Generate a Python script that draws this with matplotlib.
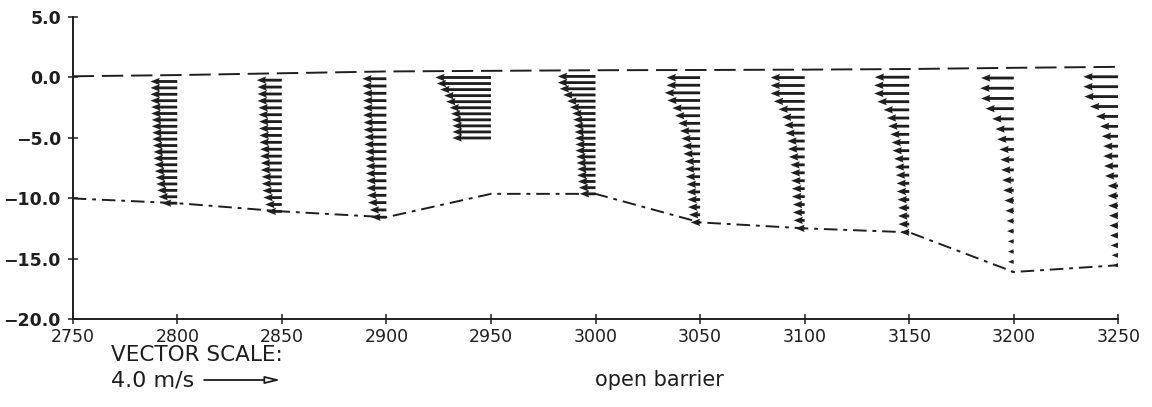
import matplotlib.pyplot as plt
from matplotlib.ticker import FuncFormatter

# stations along the channel (m), water surface and bed level (m)
station = [2750, 2800, 2850, 2900, 2950, 3000, 3050, 3100, 3150, 3200, 3250]
surface = [0.10, 0.20, 0.35, 0.50, 0.55, 0.60, 0.62, 0.65, 0.70, 0.80, 0.88]
bed = [-10.0, -10.39, -11.07, -11.55, -9.62, -9.62, -11.98, -12.47, -12.80, -16.08, -15.52]

# sigma layers (fraction of local depth below surface), top to bottom
sigma = [0.05, 0.10, 0.15, 0.20, 0.25, 0.30, 0.35, 0.40, 0.45, 0.50,
         0.55, 0.60, 0.65, 0.70, 0.75, 0.80, 0.85, 0.90, 0.95, 1.00]

# current speed (m/s, towards -x), top layer first
speed = {
    2800: [1.40, 1.40, 1.40, 1.40, 1.36, 1.36, 1.33, 1.33, 1.31, 1.31,
           1.27, 1.24, 1.24, 1.20, 1.17, 1.13, 1.10, 1.05, 0.98, 0.80],
    2850: [1.31, 1.27, 1.27, 1.27, 1.22, 1.22, 1.19, 1.19, 1.17, 1.17,
           1.13, 1.13, 1.10, 1.10, 1.05, 1.05, 1.01, 0.96, 0.87, 0.79],
    2900: [1.26, 1.26, 1.22, 1.22, 1.22, 1.22, 1.19, 1.19, 1.15, 1.15,
           1.12, 1.12, 1.08, 1.08, 1.05, 1.05, 1.01, 0.96, 0.87, 0.79],
    3000: [1.97, 1.97, 1.87, 1.69, 1.48, 1.34, 1.22, 1.17, 1.13, 1.10,
           1.08, 1.05, 1.05, 1.01, 0.99, 0.96, 0.96, 0.92, 0.87, 0.82],
    3050: [1.75, 1.75, 1.85, 1.71, 1.45, 1.31, 1.15, 1.05, 0.98, 0.92,
           0.87, 0.80, 0.79, 0.75, 0.70, 0.70, 0.66, 0.63, 0.58, 0.49],
    3100: [1.78, 1.78, 1.78, 1.61, 1.36, 1.19, 1.08, 1.01, 0.91, 0.87,
           0.82, 0.75, 0.73, 0.70, 0.66, 0.66, 0.61, 0.61, 0.58, 0.49],
    3150: [1.80, 1.83, 1.83, 1.66, 1.34, 1.17, 1.10, 0.99, 0.92, 0.87,
           0.79, 0.75, 0.70, 0.66, 0.65, 0.61, 0.58, 0.58, 0.56, 0.47],
    3200: [1.71, 1.75, 1.71, 1.48, 1.13, 0.96, 0.87, 0.75, 0.70, 0.66,
           0.61, 0.56, 0.49, 0.44, 0.38, 0.35, 0.31, 0.31, 0.30, 0.17],
    3250: [1.83, 1.83, 1.78, 1.48, 1.17, 0.96, 0.87, 0.79, 0.79, 0.75,
           0.70, 0.56, 0.56, 0.52, 0.49, 0.47, 0.44, 0.40, 0.35, 0.30],
}

# barrier opening at 2950: fixed levels
z_barrier = [0.0, -0.5, -1.0, -1.5, -2.0, -2.5, -3.0, -3.5, -4.0, -4.5, -5.0]
u_barrier = [2.91, 2.83, 2.65, 2.44, 2.34, 2.16, 2.09, 2.04, 2.01, 2.01, 2.01]

vec_ref = 4.0        # m/s shown in the scale
vec_units = 9.15     # x-units per m/s
ink = '#1e1e1e'

fig = plt.figure(figsize=(11.52, 4.07), dpi=100)
ax = fig.add_axes([0.0631, 0.2152, 0.9077, 0.743])

X, Y, U = [], [], []
for st, sp in speed.items():
    i = station.index(st)
    top, bot = surface[i], bed[i]
    for s, u in zip(sigma, sp):
        X.append(st)
        Y.append(top + s * (bot - top))
        U.append(-u)
for z, u in zip(z_barrier, u_barrier):
    X.append(2950)
    Y.append(z)
    U.append(-u)

ax.quiver(X, Y, U, [0] * len(U), angles='xy', scale_units='xy',
          scale=1 / vec_units, pivot='tail', color=ink,
          width=0.0027, headwidth=2.6, headlength=3.3, headaxislength=3.0)

ax.plot(station, surface, color=ink, lw=1.4, dashes=(11, 4))
ax.plot(station, bed, color=ink, lw=1.4, dashes=(7, 3, 2, 3))

ax.set_xlim(2750, 3250)
ax.set_ylim(-20, 5)
ax.set_xticks(range(2750, 3251, 50))
ax.set_yticks([-20, -15, -10, -5, 0, 5])
ax.yaxis.set_major_formatter(FuncFormatter(lambda v, p: f'{v:.1f}'.replace('-', '\u2212')))
ax.spines['top'].set_visible(False)
ax.spines['right'].set_visible(False)
for s in ('left', 'bottom'):
    ax.spines[s].set_linewidth(1.4)
    ax.spines[s].set_color(ink)
ax.tick_params(axis='both', direction='inout', length=7, width=1.1,
               colors=ink, labelsize=12.5)
ax.tick_params(axis='y', pad=5)
ax.tick_params(axis='x', pad=3)
for lab in ax.get_yticklabels():
    lab.set_fontweight('bold')

# vector scale legend
fig.text(111 / 1152, 1 - 355 / 407, 'VECTOR SCALE:', fontsize=15.5,
         va='center', ha='left', color=ink)
fig.text(111 / 1152, 1 - 380 / 407, '4.0 m/s', fontsize=16,
         va='center', ha='left', color=ink)
x0 = 2750 + (204 - 72.7) / 2.09
ax.annotate('', xy=(x0 + vec_ref * vec_units, 407 - 380), xytext=(x0, 407 - 380),
            xycoords=('data', 'figure pixels'),
            textcoords=('data', 'figure pixels'), annotation_clip=False,
            arrowprops=dict(arrowstyle='-|>,head_length=0.9,head_width=0.22',
                            lw=1.3, color=ink, fc='white',
                            shrinkA=0, shrinkB=0))
fig.text(595 / 1152, 1 - 380 / 407, 'open barrier', fontsize=15,
         va='center', ha='left', color=ink)

fig.savefig('out.png', dpi=100)
